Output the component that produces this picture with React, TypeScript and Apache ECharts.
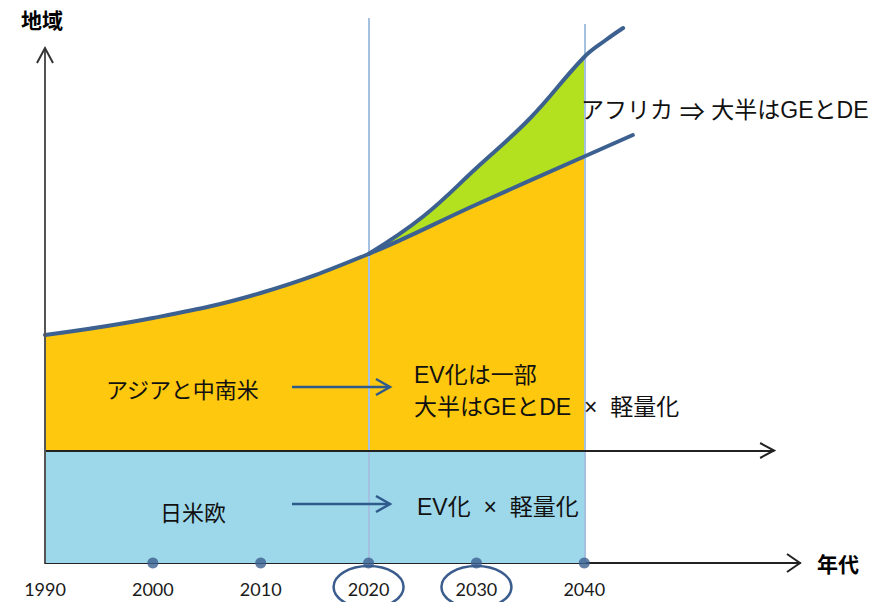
import React, { useEffect, useRef } from "react";
import * as echarts from "echarts";

// Timeline ticks along the bottom axis
const tickYears = [1990, 2000, 2010, 2020, 2030, 2040];
const tickLabels = ["1990", "2000", "2010", "2020", "2030", "2040"];
const dotYears = [2000, 2010, 2020, 2030, 2040];
const circledYears = [2020, 2030];

// Region curves: [year, level]
const lowerCurve: [number, number][] = [
  [1990, 45.6],
  [2000, 49.0],
  [2010, 54.0],
  [2020, 61.8],
  [2030, 71.7],
  [2040, 81.3],
  [2044.5, 85.6],
];
const upperCurve: [number, number][] = [
  [2020, 61.8],
  [2025, 69.2],
  [2030, 79.0],
  [2035, 89.0],
  [2040, 101.2],
  [2042, 104.6],
  [2043.6, 107],
];

// Level separating 日米欧 from the rest
const bandLevel = 22.5;
const firstYear = 1990;
const lastYear = 2040;
// Phase boundaries and how high their guide lines reach
const phaseYears = [2020, 2040];
const phaseTops = [109, 107.8];

const AXIS_MAX_X = 2060;
const AXIS_MAX_Y = 110;
const Y_ARROW_TOP = 103;
const MID_ARROW_END = 2057.6;
const SMOOTH = 0.4;

const CJK = "'Liberation Sans', 'Noto Sans CJK JP', sans-serif";
const CURVE = "#3c6190";

export default function App() {
  const ref = useRef<HTMLDivElement>(null);

  useEffect(() => {
    document.body.style.margin = "0";
    if (!ref.current) return;
    const chart = echarts.init(ref.current, undefined, { renderer: "svg" });

    const upTo = (pts: [number, number][]) => pts.filter((p) => p[0] <= lastYear);

    chart.setOption({
      animation: false,
      backgroundColor: "#ffffff",
      grid: { left: 45, right: 89, top: 13, bottom: 39, outerBoundsMode: "none" },
      xAxis: {
        type: "value",
        min: firstYear,
        max: AXIS_MAX_X,
        interval: 10,
        axisLine: { show: true, lineStyle: { color: "#222", width: 2 } },
        axisTick: { show: false },
        splitLine: { show: false },
        axisLabel: {
          margin: 17,
          fontFamily: "Lato, 'Open Sans', sans-serif",
          fontSize: 18,
          color: "#1a1a1a",
          formatter: (v: number) => {
            const i = tickYears.indexOf(v);
            return i >= 0 ? tickLabels[i] : "";
          },
        },
        name: "年代",
        nameLocation: "end",
        nameGap: 17,
        nameTextStyle: {
          fontFamily: "'Noto Sans CJK JP', sans-serif",
          fontWeight: "bold",
          fontSize: 21,
          color: "#000",
        },
      },
      yAxis: { type: "value", min: 0, max: AXIS_MAX_Y, show: false },
      series: [
        {
          name: "アフリカ",
          type: "line",
          data: upTo(upperCurve),
          smooth: SMOOTH,
          symbol: "none",
          lineStyle: { width: 0 },
          areaStyle: { color: "#b3e11f", opacity: 1 },
          z: 1,
        },
        {
          name: "アジアと中南米",
          type: "line",
          data: upTo(lowerCurve),
          smooth: SMOOTH,
          symbol: "none",
          lineStyle: { width: 0 },
          areaStyle: { color: "#fec80e", opacity: 1 },
          z: 2,
        },
        {
          name: "日米欧",
          type: "line",
          data: [
            [firstYear, bandLevel],
            [lastYear, bandLevel],
          ],
          symbol: "none",
          lineStyle: { width: 0 },
          areaStyle: { color: "#9dd8ea", opacity: 1 },
          z: 3,
          markLine: {
            silent: true,
            symbol: "none",
            label: { show: false },
            data: [
              ...phaseYears.map((y, i) => [
                { coord: [y, 0], lineStyle: { color: "#a4c1e2", width: 2, type: "solid" } },
                { coord: [y, phaseTops[i]] },
              ]),
              [
                { coord: [firstYear, bandLevel], lineStyle: { color: "#222", width: 2, type: "solid" } },
                { coord: [MID_ARROW_END, bandLevel] },
              ],
            ],
          },
        },
        {
          name: "lower",
          type: "line",
          data: lowerCurve,
          smooth: SMOOTH,
          symbol: "none",
          lineStyle: { color: CURVE, width: 4, cap: "round" },
          z: 5,
        },
        {
          name: "upper",
          type: "line",
          data: upperCurve,
          smooth: SMOOTH,
          symbol: "none",
          lineStyle: { color: CURVE, width: 4, cap: "round" },
          z: 5,
        },
        {
          name: "ticks",
          type: "scatter",
          data: dotYears.map((y) => [y, 0]),
          symbolSize: 11,
          itemStyle: { color: "#3b5f8f" },
          z: 6,
        },
      ],
    });

    const px = (x: number, y: number) =>
      chart.convertToPixel({ xAxisIndex: 0, yAxisIndex: 0 }, [x, y]) as number[];

    const origin = px(firstYear, 0);
    const yTop = px(firstYear, Y_ARROW_TOP);
    const xEnd = px(AXIS_MAX_X, 0);
    const midEnd = px(MID_ARROW_END, bandLevel);

    const chevronRight = (tip: number[], dx: number, dy: number) => ({
      type: "polyline",
      shape: { points: [[tip[0] - dx, tip[1] - dy], tip, [tip[0] - dx, tip[1] + dy]] },
      style: { stroke: "#222", lineWidth: 2, fill: "none" },
      silent: true,
      z: 20,
    });

    const noteArrow = (x1: number, x2: number, y: number) => [
      {
        type: "line",
        shape: { x1, y1: y, x2, y2: y },
        style: { stroke: "#2f5a8c", lineWidth: 2.5 },
        silent: true,
        z: 20,
      },
      {
        type: "polyline",
        shape: { points: [[x2 - 14, y - 8], [x2, y], [x2 - 14, y + 8]] },
        style: { stroke: "#2f5a8c", lineWidth: 2.5, fill: "none" },
        silent: true,
        z: 20,
      },
    ];

    const note = (text: string, x: number, y: number, size: number) => ({
      type: "text",
      x,
      y,
      style: {
        text,
        fontFamily: CJK,
        fontSize: size,
        fill: "#111",
        verticalAlign: "middle",
        align: "left",
      },
      silent: true,
      z: 20,
    });

    chart.setOption({
      graphic: [
        // vertical axis with open arrow head
        {
          type: "line",
          shape: { x1: origin[0], y1: origin[1], x2: yTop[0], y2: yTop[1] },
          style: { stroke: "#555", lineWidth: 2 },
          silent: true,
          z: 20,
        },
        {
          type: "polyline",
          shape: {
            points: [
              [yTop[0] - 8, yTop[1] + 15],
              [yTop[0], yTop[1]],
              [yTop[0] + 8, yTop[1] + 15],
            ],
          },
          style: { stroke: "#333", lineWidth: 2, fill: "none" },
          silent: true,
          z: 20,
        },
        chevronRight(xEnd, 13, 9),
        chevronRight(midEnd, 14, 7.5),
        {
          type: "text",
          x: 42,
          y: 19,
          style: {
            text: "地域",
            fontFamily: "'Noto Sans CJK JP', sans-serif",
            fontWeight: "bold",
            fontSize: 21,
            fill: "#000",
            align: "center",
            verticalAlign: "middle",
          },
          silent: true,
          z: 20,
        },
        ...circledYears.map((y) => {
          const p = px(y, 0);
          return {
            type: "ellipse",
            shape: { cx: p[0], cy: p[1] + 24, rx: 35, ry: 21 },
            style: { stroke: "#3a5d8d", lineWidth: 2.5, fill: "none" },
            silent: true,
            z: 20,
          };
        }),
        note("アジアと中南米", 106, 390, 22),
        note("日米欧", 160, 513, 22),
        note("EV化は一部", 414, 375, 23),
        note("大半はGEとDE  ×  軽量化", 414, 407, 23),
        note("EV化  ×  軽量化", 417, 507, 23),
        {
          type: "text",
          x: 581,
          y: 110,
          style: {
            text: "{a|アフリカ}  {b|⇒}  {a|大半はGEとDE}",
            verticalAlign: "middle",
            align: "left",
            rich: {
              a: { fontFamily: CJK, fontSize: 23, fill: "#111" },
              b: { fontFamily: "'Noto Sans CJK JP', sans-serif", fontSize: 25, fill: "#111" },
            },
          },
          silent: true,
          z: 20,
        },
        ...noteArrow(292, 390, 387),
        ...noteArrow(292, 390, 504),
      ],
    });

    return () => chart.dispose();
  }, []);

  return <div ref={ref} style={{ width: 889, height: 602 }} />;
}
